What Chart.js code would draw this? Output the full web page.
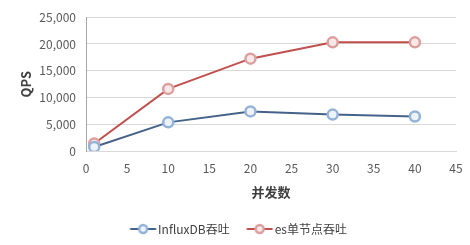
<!DOCTYPE html>
<html>
<head>
<meta charset="utf-8">
<script src="https://cdn.jsdelivr.net/npm/chart.js@4"></script>
<style>
  html, body { margin: 0; padding: 0; background: #fff; }
  #wrap { width: 470px; height: 245px; }
</style>
</head>
<body>
<div id="wrap"><canvas id="qpsChart"></canvas></div>
<script>
/* ---------- DATA ---------- */
const concurrency = [1, 10, 20, 30, 40];
const influxQps   = [750, 5350, 7400, 6800, 6450];
const esQps       = [1400, 11600, 17250, 20300, 20300];
const seriesNames = ["InfluxDB吞吐", "es单节点吞吐"];

const FONT = "'Noto Sans CJK SC', 'Open Sans', sans-serif";

/* ---------- legend marker: short line with a ring, shifted right ---------- */
function legendMarker(lineColor, ringColor, fillColor) {
    const c = document.createElement("canvas");
    c.width = 40; c.height = 12;
    const g = c.getContext("2d");
    g.strokeStyle = lineColor;
    g.lineWidth = 2;
    g.beginPath(); g.moveTo(12.5, 6); g.lineTo(38.5, 6); g.stroke();
    g.beginPath(); g.arc(25.5, 6, 4, 0, Math.PI * 2);
    g.fillStyle = fillColor; g.fill();
    g.lineWidth = 2.5; g.strokeStyle = ringColor; g.stroke();
    return c;
}

const styles = [
    { line: "#44628a", ring: "#94b3d9", fill: "#eef3f9" },
    { line: "#c0504d", ring: "#dc9f9e", fill: "#f8e9e9" }
];

const toPoints = vals => vals.map((v, i) => ({ x: concurrency[i], y: v }));

new Chart(document.getElementById("qpsChart"), {
    type: "line",
    data: {
        datasets: [influxQps, esQps].map((vals, i) => ({
            label: seriesNames[i],
            data: toPoints(vals),
            borderColor: styles[i].line,
            borderWidth: 2,
            pointRadius: 5,
            pointBorderWidth: 2.5,
            pointBorderColor: styles[i].ring,
            pointBackgroundColor: styles[i].fill,
            tension: 0
        }))
    },
    options: {
        responsive: true,
        maintainAspectRatio: false,
        animation: false,
        layout: { padding: { top: 17, right: 14, left: 14, bottom: 0 } },
        scales: {
            x: {
                type: "linear",
                min: 0, max: 45,
                ticks: { stepSize: 5, color: "#595959", font: { family: FONT, size: 12 }, padding: 2 },
                grid: { display: false },
                border: { color: "#d9d9d9" },
                title: { display: true, text: "并发数", color: "#404040",
                         font: { family: FONT, size: 13, weight: "bold" }, padding: { top: 0, bottom: 13 } },
                afterFit: s => { s.height = 62; }
            },
            y: {
                min: 0, max: 25000,
                ticks: { stepSize: 5000, color: "#595959", font: { family: FONT, size: 12 }, padding: 10,
                         callback: v => v.toLocaleString("en-US") },
                grid: { color: "#d9d9d9", drawTicks: false },
                border: { color: "#a6a6a6" },
                title: { display: true, text: "QPS", color: "#404040",
                         font: { family: FONT, size: 13, weight: "bold" }, padding: { top: 4, bottom: 0 } },
                afterFit: s => { s.width = 72; }
            }
        },
        plugins: {
            legend: {
                position: "bottom",
                labels: {
                    usePointStyle: true,
                    pointStyleWidth: 29,
                    color: "#404040",
                    font: { family: FONT, size: 12 },
                    padding: 10,
                    generateLabels: chart => chart.data.datasets.map((ds, i) => ({
                        text: ds.label,
                        pointStyle: legendMarker(styles[i].line, styles[i].ring, styles[i].fill),
                        fontColor: "#404040",
                        datasetIndex: i,
                        hidden: false,
                        lineWidth: 0
                    }))
                }
            },
            tooltip: { enabled: false }
        }
    }
});
</script>
</body>
</html>
